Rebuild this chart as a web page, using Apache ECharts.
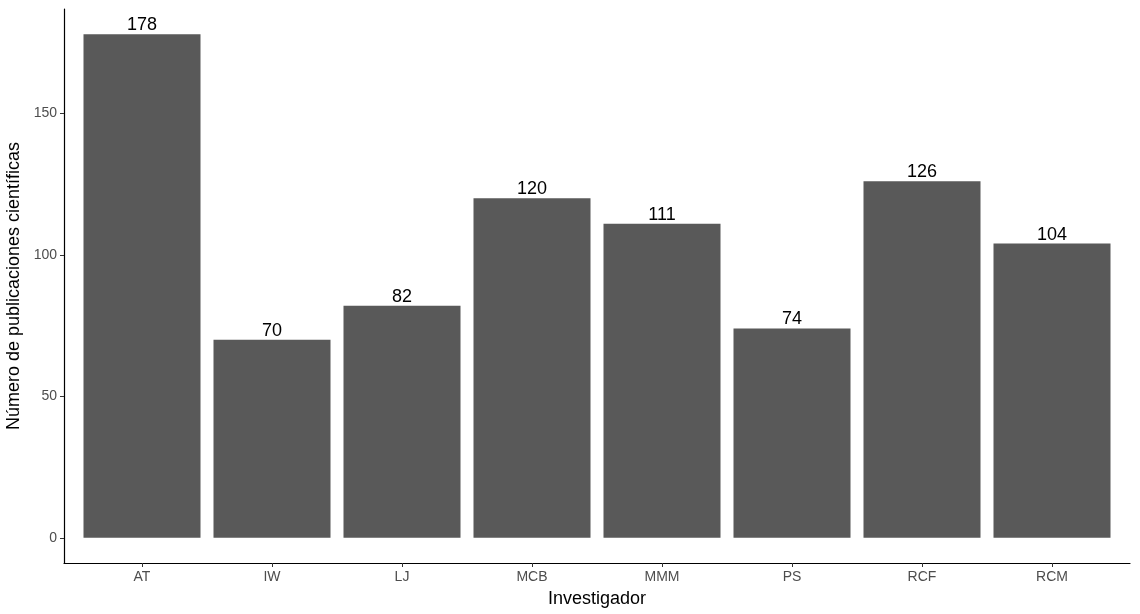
<!DOCTYPE html>
<html>
<head>
<meta charset="utf-8">
<script src="https://cdn.jsdelivr.net/npm/echarts@6/dist/echarts.min.js"></script>
<style>
  html, body { margin: 0; padding: 0; background: #fff; }
  #chart { width: 1140px; height: 614px; }
</style>
</head>
<body>
<div id="chart"></div>
<script>
var investigadores = ['AT', 'IW', 'LJ', 'MCB', 'MMM', 'PS', 'RCF', 'RCM'];
var publicaciones = [178, 70, 82, 120, 111, 74, 126, 104];
var yTicks = [0, 50, 100, 150];
var xTicks = [1, 2, 3, 4, 5, 6, 7, 8];

var myChart = echarts.init(document.getElementById('chart'));

function paintBars() {
    var axisGray = '#4d4d4d';
    var option = {
        animation: false,
        textStyle: { fontFamily: 'Liberation Sans, Arial, sans-serif' },
        grid: {
            left: 64,
            right: 10,
            top: 9,
            bottom: 51,
            containLabel: false,
            outerBoundsMode: 'none'
        },
        xAxis: {
            type: 'value',
            min: 0.4,
            max: 8.6,
            name: 'Investigador',
            nameLocation: 'middle',
            nameGap: 27,
            nameTextStyle: { color: '#000', fontSize: 18 },
            splitLine: { show: false },
            axisLine: { show: true, onZero: false, lineStyle: { color: '#000', width: 1.2 } },
            axisTick: {
                show: true, length: 4,
                customValues: xTicks,
                lineStyle: { color: '#333' }
            },
            axisLabel: {
                customValues: xTicks,
                color: axisGray,
                fontSize: 14,
                margin: 7,
                formatter: function (v) { return investigadores[Math.round(v) - 1]; }
            }
        },
        yAxis: {
            type: 'value',
            min: -8.9,
            max: 186.9,
            name: 'Número de publicaciones científicas',
            nameLocation: 'middle',
            nameGap: 33,
            nameTextStyle: { color: '#000', fontSize: 18 },
            splitLine: { show: false },
            axisLine: { show: true, onZero: false, lineStyle: { color: '#000', width: 1.2 } },
            axisTick: {
                show: true, length: 4,
                customValues: yTicks,
                lineStyle: { color: '#333' }
            },
            axisLabel: {
                customValues: yTicks,
                color: axisGray,
                fontSize: 14,
                margin: 7
            }
        },
        series: [{
            type: 'bar',
            barWidth: 117,
            itemStyle: { color: '#595959', borderWidth: 0 },
            label: {
                show: true,
                position: 'top',
                distance: 0,
                color: '#000',
                fontSize: 18,
                formatter: function (p) { return p.value[1]; }
            },
            data: publicaciones.map(function (v, i) { return [i + 1, v]; })
        }]
    };
    myChart.setOption(option);
}
paintBars();
</script>
</body>
</html>
